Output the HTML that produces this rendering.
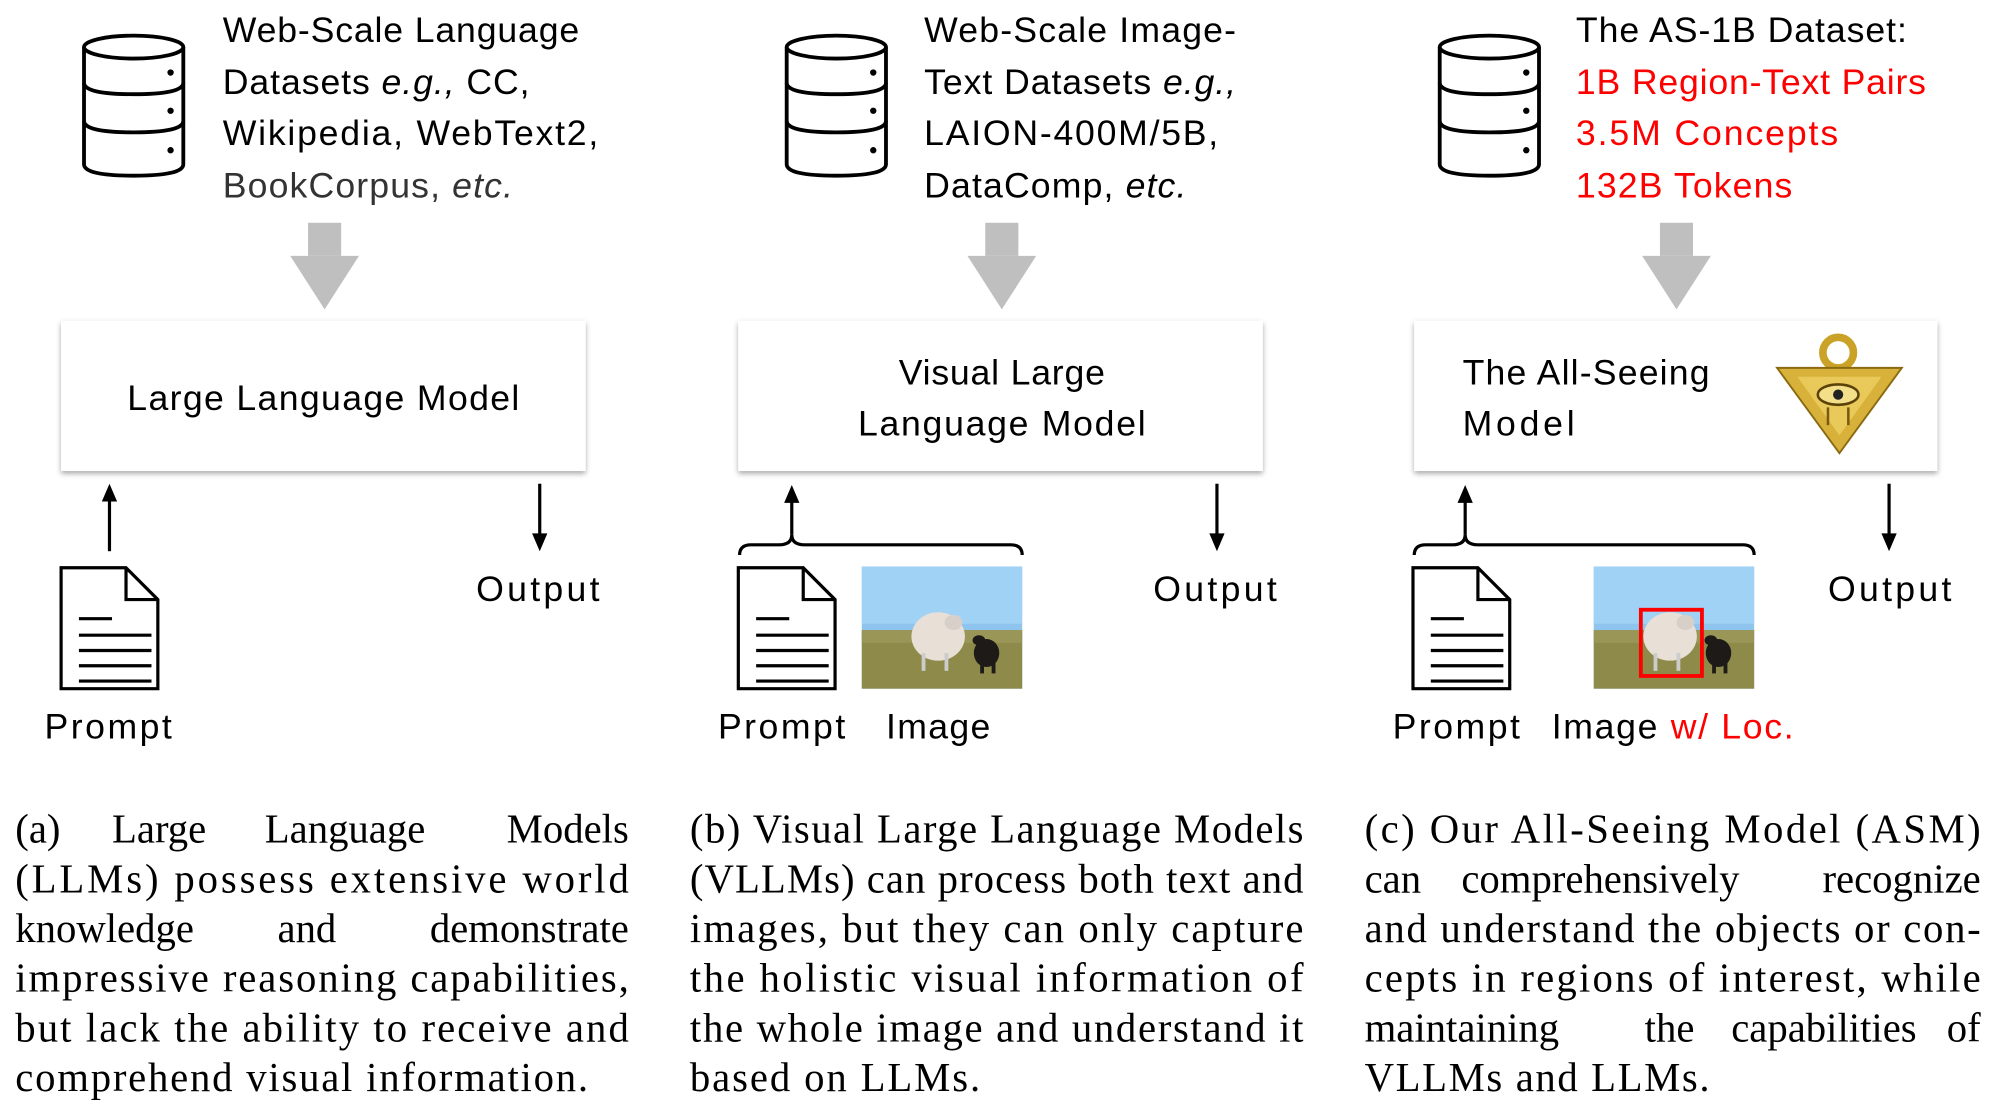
<!DOCTYPE html>
<html><head><meta charset="utf-8"><style>html,body{margin:0;padding:0;background:#fff}svg{display:block}</style></head>
<body>
<svg width="1996" height="1108" viewBox="0 0 1568 870.4" preserveAspectRatio="none" xmlns="http://www.w3.org/2000/svg">
<defs>
<filter id="sh" x="-5%" y="-10%" width="110%" height="125%"><feDropShadow dx="0" dy="2" stdDeviation="2" flood-color="#000" flood-opacity="0.35"/></filter>
<g id="db" fill="none" stroke="#000" stroke-width="3">
<ellipse cx="40" cy="16" rx="39" ry="9"/>
<path d="M1 16 V108 Q1 117 40 117 Q79 117 79 108 V16"/>
<path d="M1 44 Q1 53 40 53 Q79 53 79 44"/>
<path d="M1 74 Q1 83 40 83 Q79 83 79 74"/>
<circle cx="69" cy="36" r="2.5" fill="#000" stroke="none"/>
<circle cx="69" cy="66" r="2.5" fill="#000" stroke="none"/>
<circle cx="69" cy="97" r="2.5" fill="#000" stroke="none"/>
</g>
<g id="garrow" fill="#bfbfbf"><rect x="-13" y="0" width="26" height="26"/><polygon points="-27,26 27,26 0,68"/></g>
<g id="doc" fill="none" stroke="#000" stroke-width="2.5">
<path d="M1 1 H52 L77 26 V96 H1 Z"/><path d="M52 1 V26 H77"/>
<path d="M15 41 H41 M15 54 H72 M15 66 H72 M15 78 H72 M15 90 H72"/>
</g>
<g id="sheep">
<rect x="0" y="0" width="126" height="96" fill="#8fc4ee"/>
<rect x="0" y="0" width="126" height="45" fill="#9fd2f5"/>
<rect x="0" y="50" width="126" height="46" fill="#8d8a4a"/>
<rect x="0" y="50" width="126" height="10" fill="#9a9658"/>
<ellipse cx="60" cy="55" rx="21" ry="19" fill="#e8e0d6"/>
<ellipse cx="72" cy="44" rx="7" ry="6" fill="#d8d0c8"/>
<rect x="47" y="68" width="3" height="14" fill="#ccc"/><rect x="65" y="68" width="3" height="14" fill="#ccc"/>
<ellipse cx="98" cy="68" rx="10" ry="11" fill="#1e1a18"/>
<ellipse cx="92" cy="58" rx="5" ry="4" fill="#1e1a18"/>
<rect x="93" y="75" width="3" height="9" fill="#1e1a18"/><rect x="102" y="75" width="3" height="9" fill="#1e1a18"/>
</g>
</defs>
<g font-family="'Liberation Sans', sans-serif" font-size="28" fill="#000">
<use href="#db" x="65" y="21"/>
<text x="175" y="33" textLength="280">Web-Scale Language</text>
<text x="175" y="74" textLength="241">Datasets  <tspan font-style="italic">e.g.,</tspan> CC,</text>
<text x="175" y="114" textLength="295">Wikipedia, WebText2,</text>
<text x="175" y="155" textLength="228" fill="#333">BookCorpus, <tspan font-style="italic">etc.</tspan></text>
<use href="#garrow" x="255" y="175"/>
<rect x="48" y="252" width="412" height="118" fill="#fff" filter="url(#sh)"/>
<text x="254" y="322" text-anchor="middle" textLength="308">Large Language Model</text>
<line x1="86" y1="433" x2="86" y2="392" stroke="#000" stroke-width="2.5"/><polygon points="80,394 92,394 86,380"/>
<line x1="424" y1="380" x2="424" y2="421" stroke="#000" stroke-width="2.5"/><polygon points="418,419 430,419 424,433"/>
<use href="#doc" x="47" y="445"/>
<text x="35" y="580" textLength="100">Prompt</text>
<text x="374" y="472" textLength="97">Output</text>
<use href="#db" x="617" y="21"/>
<text x="726" y="33" textLength="245">Web-Scale Image-</text>
<text x="726" y="74" textLength="245">Text Datasets <tspan font-style="italic">e.g.,</tspan></text>
<text x="726" y="114" textLength="231">LAION-400M/5B,</text>
<text x="726" y="155" textLength="206">DataComp, <tspan font-style="italic">etc.</tspan></text>
<use href="#garrow" x="787" y="175"/>
<rect x="580" y="252" width="412" height="118" fill="#fff" filter="url(#sh)"/>
<text x="787" y="302" text-anchor="middle" textLength="162">Visual Large</text>
<text x="787" y="342" text-anchor="middle" textLength="226">Language Model</text>
<path d="M581 436 Q581 428 590 428 H612 Q622 428 622 420 Q622 428 632 428 H794 Q803 428 803 436" fill="none" stroke="#000" stroke-width="2.5"/>
<line x1="622" y1="420" x2="622" y2="393" stroke="#000" stroke-width="2.5"/><polygon points="616,395 628,395 622,381"/>
<line x1="956" y1="380" x2="956" y2="421" stroke="#000" stroke-width="2.5"/><polygon points="950,419 962,419 956,433"/>
<use href="#doc" x="579" y="445"/>
<use href="#sheep" x="677" y="445"/>
<text x="564" y="580" textLength="100">Prompt</text>
<text x="696" y="580" textLength="82">Image</text>
<text x="906" y="472" textLength="97">Output</text>
<use href="#db" x="1130" y="21"/>
<text x="1238" y="33" textLength="260">The AS-1B Dataset:</text>
<text x="1238" y="74" textLength="275" fill="#f00">1B Region-Text Pairs</text>
<text x="1238" y="114" textLength="206" fill="#f00">3.5M Concepts</text>
<text x="1238" y="155" textLength="170" fill="#f00">132B Tokens</text>
<use href="#garrow" x="1317" y="175"/>
<rect x="1111" y="252" width="411" height="118" fill="#fff" filter="url(#sh)"/>
<text x="1149" y="302" textLength="194">The All-Seeing</text>
<text x="1149" y="342" textLength="88">Model</text>
<g>
<circle cx="1444" cy="277" r="12" fill="none" stroke="#c9a227" stroke-width="6"/>
<polygon points="1396,289 1494,289 1445,356" fill="#d8b13a" stroke="#8a6a10" stroke-width="1.5"/>
<polygon points="1412,296 1478,296 1445,342" fill="#e9c95a"/>
<ellipse cx="1444" cy="310" rx="16" ry="8" fill="#f3df8a" stroke="#5a4208" stroke-width="2"/>
<circle cx="1444" cy="310" r="4" fill="#222"/>
<path d="M1436 320 V334 M1452 320 V334" stroke="#7a5a10" stroke-width="2"/>
</g>
<path d="M1111 436 Q1111 428 1120 428 H1141 Q1151 428 1151 420 Q1151 428 1161 428 H1369 Q1378 428 1378 436" fill="none" stroke="#000" stroke-width="2.5"/>
<line x1="1151" y1="420" x2="1151" y2="393" stroke="#000" stroke-width="2.5"/><polygon points="1145,395 1157,395 1151,381"/>
<line x1="1484" y1="380" x2="1484" y2="421" stroke="#000" stroke-width="2.5"/><polygon points="1478,419 1490,419 1484,433"/>
<use href="#doc" x="1109" y="445"/>
<use href="#sheep" x="1252" y="445"/>
<rect x="1289" y="479" width="48" height="52" fill="none" stroke="#f00" stroke-width="3"/>
<text x="1094" y="580" textLength="100">Prompt</text>
<text x="1219" y="580" textLength="190">Image <tspan fill="#f00">w/ Loc.</tspan></text>
<text x="1436" y="472" textLength="97">Output</text>
</g>
<g font-family="'Liberation Serif', serif" font-size="32" fill="#000">
<text x="12" y="662">(a)</text><text x="88" y="662">Large</text><text x="208" y="662">Language</text><text x="494" y="662" text-anchor="end">Models</text>
<text x="12" y="701" textLength="482">(LLMs) possess extensive world</text>
<text x="12" y="740">knowledge</text><text x="218" y="740">and</text><text x="494" y="740" text-anchor="end">demonstrate</text>
<text x="12" y="779" textLength="482">impressive reasoning capabilities,</text>
<text x="12" y="818" textLength="482">but lack the ability to receive and</text>
<text x="12" y="857" textLength="450">comprehend visual information.</text>
<text x="542" y="662" textLength="482">(b) Visual Large Language Models</text>
<text x="542" y="701" textLength="482">(VLLMs) can process both text and</text>
<text x="542" y="740" textLength="482">images, but they can only capture</text>
<text x="542" y="779" textLength="482">the holistic visual information of</text>
<text x="542" y="818" textLength="482">the whole image and understand it</text>
<text x="542" y="857" textLength="228">based on LLMs.</text>
<text x="1072" y="662" textLength="484">(c) Our All-Seeing Model (ASM)</text>
<text x="1072" y="701">can</text><text x="1148" y="701">comprehensively</text><text x="1556" y="701" text-anchor="end">recognize</text>
<text x="1072" y="740" textLength="484">and understand the objects or con-</text>
<text x="1072" y="779" textLength="484">cepts in regions of interest, while</text>
<text x="1072" y="818">maintaining</text><text x="1292" y="818">the</text><text x="1360" y="818">capabilities</text><text x="1556" y="818" text-anchor="end">of</text>
<text x="1072" y="857" textLength="271">VLLMs and LLMs.</text>
</g>
</svg>
</body></html>
